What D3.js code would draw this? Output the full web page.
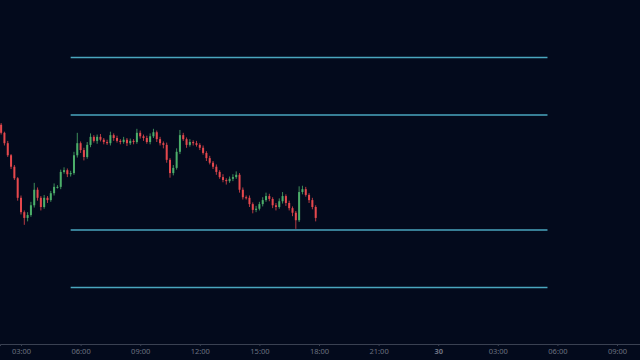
<!DOCTYPE html>
<html>
<head>
<meta charset="utf-8">
<script src="https://cdn.jsdelivr.net/npm/d3@7"></script>
<style>
  html, body { margin: 0; padding: 0; background: #030a1c; }
  svg { display: block; }
</style>
</head>
<body>
<div id="chart"></div>
<script>
// 10-minute candles from 29th 02:00; open of each candle = previous close
const firstOpen = 98.3;
const closes = [
  96.9, 95.1, 93.0, 91.0, 89.0, 85.6, 83.1, 82.1, 82.6, 84.3,
  87.0, 85.6, 84.0, 85.6, 85.2, 86.4, 87.5, 87.5, 90.1, 90.4,
  89.7, 89.9, 93.0, 95.1, 93.9, 92.7, 94.8, 96.2, 95.5, 96.2,
  95.7, 95.3, 95.1, 96.5, 96.0, 95.5, 95.3, 95.7, 95.1, 95.5,
  95.3, 96.9, 96.3, 96.0, 95.3, 96.3, 97.0, 95.8, 95.1, 94.8,
  92.2, 89.9, 90.8, 93.6, 96.5, 95.8, 94.8, 95.3, 95.1, 94.8,
  94.3, 93.4, 92.5, 91.7, 91.0, 90.1, 89.2, 88.7, 88.5, 88.9,
  89.2, 89.6, 87.0, 85.7, 85.6, 84.5, 83.5, 83.7, 84.5, 85.2,
  85.9, 85.4, 84.3, 84.0, 85.0, 85.9, 84.7, 83.8, 83.0, 81.7,
  86.6, 87.1, 86.1, 85.2, 84.0, 82.1
];
// wick length above / below the body (price units)
const wickUp = [
  0.3, 0.2, 0.4, 0.2, 0.3, 0.2, 0.4, 0.3, 0.5, 0.6,
  1.2, 0.4, 0.3, 0.5, 0.3, 0.4, 0.6, 0.3, 0.4, 0.5,
  0.3, 0.4, 0.6, 1.8, 0.3, 0.4, 0.5, 0.6, 0.3, 0.4,
  0.5, 0.3, 0.4, 0.6, 0.3, 0.4, 0.3, 0.5, 0.3, 0.4,
  0.3, 0.7, 0.4, 0.3, 0.4, 0.5, 0.6, 0.3, 0.4, 0.3,
  0.4, 0.3, 0.5, 0.6, 0.9, 0.4, 0.3, 0.5, 0.3, 0.4,
  0.3, 0.4, 0.3, 0.4, 0.3, 0.4, 0.3, 0.5, 0.3, 0.4,
  0.5, 0.6, 0.3, 0.4, 0.3, 0.4, 0.3, 0.5, 0.4, 0.5,
  0.6, 0.4, 0.3, 0.4, 0.5, 0.7, 0.3, 0.4, 0.3, 0.3,
  1.0, 0.6, 0.4, 0.3, 0.4, 0.3
];
const wickDown = [
  0.3, 0.4, 0.3, 0.4, 0.3, 0.5, 0.4, 1.2, 0.6, 0.3,
  0.4, 0.5, 0.6, 0.3, 0.5, 0.3, 0.4, 0.3, 0.4, 0.3,
  0.5, 0.4, 0.3, 0.4, 0.5, 0.6, 0.3, 0.4, 0.3, 0.5,
  0.3, 0.4, 0.3, 0.4, 0.5, 0.3, 0.4, 0.3, 0.5, 0.3,
  0.4, 0.3, 0.4, 0.5, 0.3, 0.4, 0.3, 0.5, 0.4, 0.6,
  0.5, 0.8, 0.4, 0.3, 0.4, 0.3, 0.5, 0.3, 0.4, 0.3,
  0.4, 0.3, 0.5, 0.3, 0.4, 0.5, 0.3, 0.4, 0.6, 0.3,
  0.4, 0.3, 0.5, 0.4, 0.3, 0.5, 0.6, 0.4, 0.3, 0.4,
  0.3, 0.4, 0.5, 0.6, 0.3, 0.4, 0.5, 0.4, 0.6, 1.5,
  0.3, 0.4, 0.3, 0.5, 0.4, 0.6
];

// horizontal levels, drawn 05:30 -> 05:30 next day
const levels = [110, 100, 80, 70];
const levelStart = new Date(2024, 0, 29, 5, 30);
const levelEnd = new Date(2024, 0, 30, 5, 30);

const firstCandle = new Date(2024, 0, 29, 2, 0);
const candleMinutes = 10;

const width = 640, height = 360;
const axisY = 344;

const candles = closes.map((c, i) => {
  const o = i === 0 ? firstOpen : closes[i - 1];
  return {
    t: d3.timeMinute.offset(firstCandle, i * candleMinutes),
    open: o,
    close: c,
    high: Math.max(o, c) + wickUp[i],
    low: Math.min(o, c) - wickDown[i],
  };
});

const x = d3.scaleTime()
  .domain([new Date(2024, 0, 29, 1, 56, 36), new Date(2024, 0, 30, 10, 9, 26)])
  .range([0, width]);

const y = d3.scaleLinear()
  .domain([70, 110])
  .range([287.5, 57.5]);

const svg = d3.select("#chart").append("svg")
  .attr("width", width)
  .attr("height", height);

svg.append("rect")
  .attr("width", width).attr("height", height)
  .attr("fill", "#030a1c");

// levels
svg.selectAll(".level")
  .data(levels)
  .join("line")
  .attr("class", "level")
  .attr("x1", x(levelStart))
  .attr("x2", x(levelEnd))
  .attr("y1", (d) => y(d))
  .attr("y2", (d) => y(d))
  .attr("stroke", "#4aa6be")
  .attr("stroke-width", 1.4);

// candles
const upColor = "#4caf6a";
const downColor = "#e5484d";
const bodyW = 2;

const g = svg.append("g");
g.selectAll(".wick")
  .data(candles)
  .join("line")
  .attr("class", "wick")
  .attr("x1", (d) => x(d.t))
  .attr("x2", (d) => x(d.t))
  .attr("y1", (d) => y(d.high))
  .attr("y2", (d) => y(d.low))
  .attr("stroke", (d) => (d.close >= d.open ? upColor : downColor))
  .attr("stroke-width", 0.8);

g.selectAll(".body")
  .data(candles)
  .join("rect")
  .attr("class", "body")
  .attr("x", (d) => x(d.t) - bodyW / 2)
  .attr("width", bodyW)
  .attr("y", (d) => y(Math.max(d.open, d.close)))
  .attr("height", (d) => Math.max(1, Math.abs(y(d.open) - y(d.close))))
  .attr("fill", (d) => (d.close >= d.open ? upColor : downColor));

// time axis
const fmt = (d) => (d.getHours() === 0 ? d3.timeFormat("%-d")(d) : d3.timeFormat("%H:%M")(d));

const axis = svg.append("g")
  .attr("transform", `translate(0, ${axisY})`)
  .call(d3.axisBottom(x).ticks(d3.timeHour.every(3)).tickFormat(fmt).tickSize(2).tickPadding(3));

axis.select(".domain").attr("stroke", "#3a4152").attr("stroke-width", 1);
axis.selectAll(".tick line").attr("stroke", "#3a4152");
axis.selectAll(".tick text")
  .attr("fill", "#6b7180")
  .style("font-family", "'Noto Sans', sans-serif")
  .style("font-size", "7.5px")
  .style("font-weight", (d) => (d.getHours() === 0 ? "bold" : "normal"));
</script>
</body>
</html>
